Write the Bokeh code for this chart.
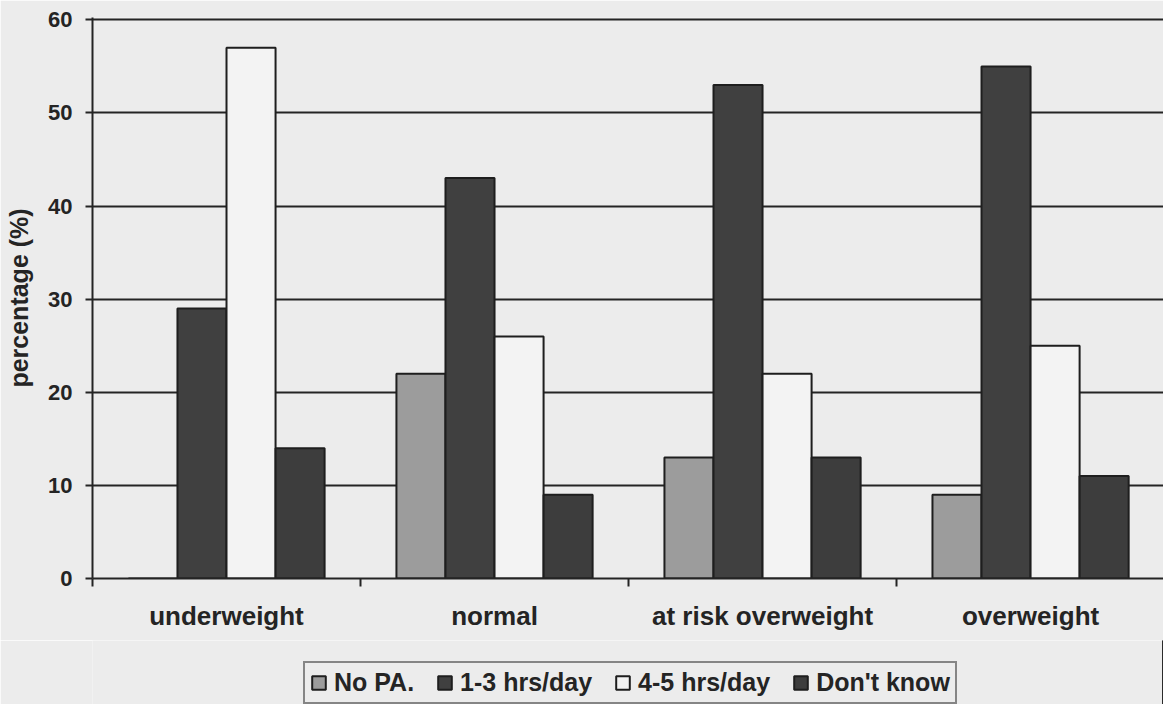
from bokeh.plotting import figure
from bokeh.layouts import column
from bokeh.models import (ColumnDataSource, Range1d, FixedTicker, Legend, LegendItem)
from bokeh.embed import file_html
from bokeh.resources import INLINE

# Weight status groups and physical-activity answers (% of children)
categories = ["underweight", "normal", "at risk overweight", "overweight"]
series = ["No PA.", "1-3 hrs/day", "4-5 hrs/day", "Don't know"]
no_pa = [0, 22, 13, 9]
hrs_1_3 = [29, 43, 53, 55]
hrs_4_5 = [57, 26, 22, 25]
dont_know = [14, 9, 13, 11]
y_ticks = [0, 10, 20, 30, 40, 50, 60]

values = [no_pa, hrs_1_3, hrs_4_5, dont_know]
fills = ["#9c9c9c", "#404040", "#f3f3f3", "#3d3d3d"]

BG = "#ececec"
INK = "#242424"
EDGE = "#1e1e1e"
FONT = "Liberation Sans"

p = figure(frame_width=1071, frame_height=561, output_backend="svg",
           toolbar_location=None,
           x_range=Range1d(0, 3.996), y_range=Range1d(0, 60.25),
           min_border_top=17, min_border_left=92, min_border_right=0,
           min_border_bottom=62)
p.background_fill_color = BG
p.border_fill_color = BG
p.outline_line_color = None

bar_w = 0.183
for i, (vals, col) in enumerate(zip(values, fills)):
    xs = [k + 0.5 + (i - 1.5) * bar_w for k in range(len(categories))]
    src = ColumnDataSource(dict(x=xs, top=vals, cat=categories))
    p.vbar(x="x", top="top", width=bar_w, bottom=0, source=src,
           fill_color=col, line_color=EDGE, line_width=2)

# horizontal gridlines
p.xgrid.visible = False
p.ygrid.ticker = FixedTicker(ticks=y_ticks)
p.ygrid.grid_line_color = INK
p.ygrid.grid_line_width = 2

# y axis
p.yaxis.ticker = FixedTicker(ticks=y_ticks)
p.yaxis.axis_label = "percentage (%)"
p.yaxis.axis_label_text_font = FONT
p.yaxis.axis_label_text_font_style = "bold"
p.yaxis.axis_label_text_font_size = "25px"
p.yaxis.axis_label_text_color = INK
p.yaxis.axis_label_standoff = 12
p.yaxis.major_label_text_font = FONT
p.yaxis.major_label_text_font_style = "bold"
p.yaxis.major_label_text_font_size = "22px"
p.yaxis.major_label_text_color = INK
p.yaxis.major_label_standoff = 13
p.yaxis.major_tick_out = 7
p.yaxis.major_tick_in = 0
p.yaxis.minor_tick_line_color = None
p.yaxis.axis_line_color = INK
p.yaxis.axis_line_width = 2
p.yaxis.major_tick_line_color = INK
p.yaxis.major_tick_line_width = 2

# x axis: labels at group centres, tick marks at group boundaries
p.xaxis.ticker = FixedTicker(ticks=[k + 0.5 for k in range(len(categories))],
                             minor_ticks=list(range(len(categories) + 1)))
p.xaxis.major_label_overrides = {k + 0.5: c for k, c in enumerate(categories)}
p.xaxis.major_label_text_font = FONT
p.xaxis.major_label_text_font_style = "bold"
p.xaxis.major_label_text_font_size = "26px"
p.xaxis.major_label_text_color = INK
p.xaxis.major_label_standoff = 14
p.xaxis.major_tick_line_color = None
p.xaxis.major_tick_out = 8
p.xaxis.minor_tick_out = 8
p.xaxis.minor_tick_in = 0
p.xaxis.minor_tick_line_color = INK
p.xaxis.minor_tick_line_width = 2
p.xaxis.axis_line_color = INK
p.xaxis.axis_line_width = 2

# legend strip underneath the chart (same left margin as the chart above)
lg = figure(frame_width=1071, frame_height=64, output_backend="svg",
            toolbar_location=None,
            x_range=Range1d(0, 1), y_range=Range1d(0, 1),
            min_border_left=92, min_border_right=0, min_border_top=0,
            min_border_bottom=0, x_axis_type=None, y_axis_type=None)
lg.background_fill_color = BG
lg.border_fill_color = BG
lg.outline_line_color = None
lg.grid.visible = False

items = []
for name, col in zip(series, fills):
    # swatch renderers: their single bar lies outside the visible range
    r = lg.vbar(x=[5], top=[1], width=0.1, fill_color=col, line_color=EDGE,
                line_width=2)
    items.append(LegendItem(label=name, renderers=[r]))

legend = Legend(items=items, orientation="horizontal", location=(211, 0),
                label_text_font=FONT, label_text_font_style="bold",
                label_text_font_size="25px", label_text_color=INK,
                glyph_width=17, glyph_height=17, label_standoff=7,
                spacing=22, padding=5, margin=0,
                border_line_color=EDGE, border_line_width=2,
                background_fill_color=BG, background_fill_alpha=1.0)
lg.add_layout(legend, "center")

open("out.html", "w").write(file_html(column(p, lg, spacing=0), INLINE))
